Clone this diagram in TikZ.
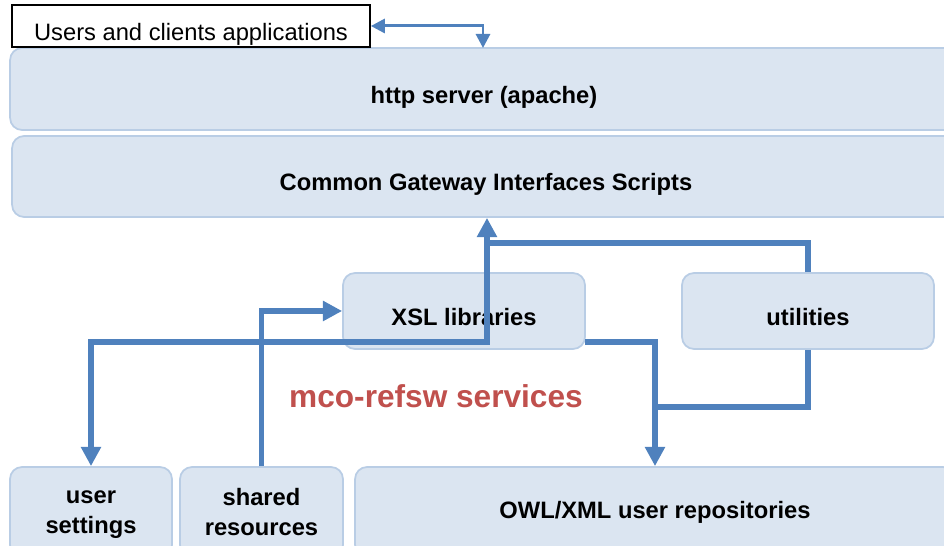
\documentclass[tikz,border=0pt]{standalone}
\usepackage{fontspec}
\setmainfont{Liberation Sans}
\usepackage{tikz}
\usetikzlibrary{arrows.meta}
\usetikzlibrary{positioning}
\definecolor{boxfill}{HTML}{DBE5F1}
\definecolor{boxline}{HTML}{B9CDE5}
\definecolor{linkblue}{HTML}{4F81BD}
\definecolor{svcred}{HTML}{C0504D}
\tikzstyle{layer}=[rectangle,rounded corners=0.24cm,draw=boxline,fill=boxfill,line width=1pt,inner sep=0mm,align=center,font=\bfseries\fontsize{13.5}{17}\selectfont]
\tikzstyle{oneline}=[text height=16pt,text depth=0pt]
\tikzstyle{client}=[rectangle,draw=black,fill=white,line width=1pt,inner sep=0mm,text height=17pt,text depth=0pt,font=\fontsize{13.5}{16}\selectfont]
\tikzstyle{link}=[draw=linkblue,line width=3.3pt,>={Triangle[length=11pt,width=11pt]}]
\tikzstyle{thinlink}=[draw=linkblue,line width=1.7pt,>={Triangle[length=8pt,width=8pt]}]

\begin{document}
\begin{tikzpicture}[x=0.02cm,y=-0.02cm]
        \useasboundingbox (0,0) rectangle (944,546);
        % stacked layers
        \node[layer,oneline,minimum width=18.96cm,minimum height=1.64cm] at (484,89) (http) {http server (apache)};
        \node[layer,oneline,minimum width=18.96cm,minimum height=1.62cm] at (486,176.5) (cgi) {Common Gateway Interfaces Scripts};
        \node[client,minimum width=7.16cm,minimum height=0.84cm] at (191,26) (users) {Users and clients applications};
        % services
        \node[layer,oneline,minimum width=4.84cm,minimum height=1.52cm] at (464,311) (xsl) {XSL libraries};
        \node[layer,oneline,minimum width=5.04cm,minimum height=1.52cm] at (808,311) (util) {utilities};
        \node[font=\bfseries\fontsize{18}{21}\selectfont,text=svcred] at (436,396) (svc) {mco-refsw services};
        % storage
        \node[layer,text depth=0pt,minimum width=3.24cm,minimum height=1.8cm] at (91,512) (uset) {user\\settings};
        \node[layer,text depth=0pt,minimum width=3.26cm,minimum height=1.8cm] at (261.5,512) (shared) {shared\\resources};
        \node[layer,minimum width=12cm,minimum height=1.8cm] at (655,512) (owl) {OWL/XML user repositories};
        \coordinate (entry) at (483,48);
        \coordinate (trunk) at (487,342);
        \coordinate (tee) at (487,243);
        \coordinate (xout) at (585,342);
        \coordinate (merge) at (655,407);
        \draw[thinlink,<->] (users.east) -| (entry);
        \draw[link,<->] (uset.north) |- (trunk) -- (trunk |- cgi.south);
        \draw[link,->] (shared.north) |- (xsl.west);
        \draw[link] (util.north) |- (tee);
        \draw[link,->] (xout) -| (owl.north);
        \draw[link] (util.south) |- (merge);
      \end{tikzpicture}
\end{document}
